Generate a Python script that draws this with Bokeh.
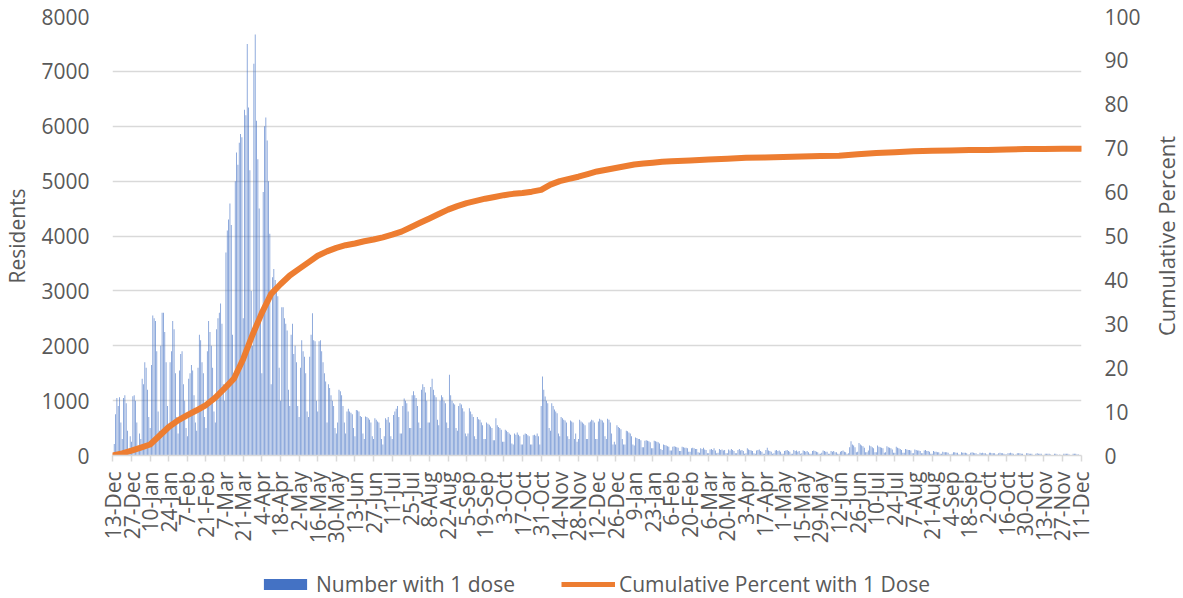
import math
from bokeh.plotting import figure
from bokeh.layouts import column, row
from bokeh.models import (Range1d, LinearAxis, FixedTicker, Legend, LegendItem)
from bokeh.core.properties import value
from bokeh.embed import file_html
from bokeh.resources import INLINE

# ---------------- data ----------------
# daily residents receiving a first dose, 13-Dec-2020 .. 11-Dec-2022 (rows = weeks Sun..Sat)
daily_doses = [
    0, 210, 750, 1050, 900, 1060, 600,
    300, 1050, 1100, 950, 450, 120, 350,
    250, 1080, 1100, 1000, 600, 150, 400,
    300, 1400, 1300, 1700, 1600, 1200, 700,
    500, 1650, 2550, 2500, 2450, 1900, 800,
    450, 2000, 2600, 2600, 2250, 1700, 900,
    550, 1700, 1900, 2450, 2300, 1500, 700,
    400, 1550, 1850, 1900, 1300, 1000, 500,
    350, 1400, 1500, 1650, 1550, 1100, 600,
    450, 1600, 2200, 2100, 1700, 1500, 700,
    500, 1900, 2450, 2250, 2000, 1600, 800,
    600, 2300, 2500, 2600, 2770, 2400, 1300,
    1000, 3700, 4100, 4300, 4590, 4200, 2200,
    1500, 5000, 5520, 5300, 5700, 5860, 5800,
    2500, 6300, 6200, 7500, 6340, 5200, 3000,
    2000, 7140, 7670, 6100, 5400, 4500, 2500,
    1500, 4800, 6000, 6160, 5740, 5000, 4040,
    1300, 3250, 3400, 3200, 3000, 2900, 1600,
    1000, 2700, 2700, 2500, 2400, 2280, 1200,
    900, 2200, 2400, 1850, 2000, 1700, 900,
    700, 1600, 2100, 1900, 1800, 1500, 800,
    700, 1800, 2200, 2590, 2100, 2080, 1000,
    800, 2080, 2100, 1900, 1700, 1500, 1350,
    600, 1300, 1230, 1100, 1000, 900, 500,
    400, 600, 1200, 1170, 1100, 900, 600,
    400, 800, 850, 800, 780, 750, 500,
    350, 830, 820, 800, 720, 700, 400,
    300, 710, 700, 680, 650, 600, 350,
    300, 680, 650, 620, 600, 500, 300,
    200, 350, 680, 650, 700, 600, 350,
    300, 740, 800, 850, 900, 700, 400,
    400, 900, 1040, 1000, 950, 800, 500,
    500, 1100, 1170, 1100, 1050, 900, 600,
    500, 1200, 1300, 1250, 1150, 1000, 600,
    600, 1250, 1400, 1200, 1100, 1060, 650,
    550, 1000, 1100, 1060, 1000, 950, 600,
    500, 1470, 1100, 1000, 950, 930, 500,
    450, 900, 950, 930, 860, 800, 400,
    350, 400, 860, 800, 750, 700, 350,
    300, 700, 660, 650, 600, 550, 300,
    300, 600, 580, 560, 530, 500, 280,
    280, 680, 550, 520, 500, 470, 250,
    250, 470, 450, 430, 400, 380, 220,
    200, 400, 380, 420, 380, 350, 200,
    200, 380, 400, 390, 370, 350, 200,
    200, 370, 380, 360, 400, 350, 200,
    900, 1440, 1200, 1075, 1000, 950, 500,
    450, 950, 900, 840, 800, 770, 400,
    350, 700, 680, 650, 640, 600, 350,
    300, 640, 620, 600, 300, 400, 250,
    300, 650, 620, 600, 580, 550, 300,
    300, 600, 620, 650, 640, 600, 300,
    300, 620, 670, 650, 640, 600, 350,
    300, 670, 650, 600, 400, 200, 250,
    200, 550, 520, 500, 480, 300, 200,
    200, 450, 440, 420, 400, 350, 200,
    180, 330, 320, 300, 300, 280, 150,
    150, 270, 280, 270, 260, 240, 130,
    130, 270, 260, 250, 240, 220, 120,
    100, 200, 190, 180, 170, 160, 90,
    90, 160, 170, 160, 150, 140, 80,
    80, 160, 150, 140, 140, 130, 70,
    70, 130, 140, 130, 120, 120, 60,
    50, 130, 120, 140, 110, 100, 40,
    40, 110, 120, 100, 130, 90, 40,
    50, 120, 100, 110, 90, 100, 40,
    40, 110, 90, 120, 100, 80, 40,
    40, 100, 120, 90, 100, 80, 30,
    40, 130, 110, 100, 90, 80, 40,
    30, 90, 100, 110, 80, 70, 30,
    30, 100, 140, 90, 80, 70, 30,
    40, 90, 100, 80, 90, 70, 30,
    30, 80, 90, 100, 80, 70, 30,
    30, 100, 80, 90, 70, 80, 30,
    40, 90, 80, 70, 80, 60, 30,
    30, 80, 90, 80, 70, 60, 30,
    30, 50, 90, 80, 70, 70, 30,
    30, 80, 70, 80, 60, 60, 30,
    30, 70, 80, 90, 70, 60, 30,
    40, 150, 260, 200, 180, 150, 60,
    70, 230, 200, 180, 170, 140, 60,
    60, 90, 180, 170, 150, 130, 60,
    60, 180, 160, 150, 140, 130, 50,
    60, 170, 150, 140, 130, 110, 50,
    50, 160, 140, 130, 120, 100, 50,
    50, 120, 110, 100, 100, 90, 40,
    40, 110, 100, 90, 90, 80, 40,
    40, 90, 100, 80, 80, 70, 30,
    30, 80, 70, 70, 60, 60, 30,
    30, 70, 60, 60, 60, 50, 20,
    20, 30, 60, 60, 50, 50, 20,
    20, 60, 50, 50, 50, 40, 20,
    20, 50, 60, 50, 40, 40, 20,
    20, 50, 40, 50, 40, 40, 20,
    20, 50, 50, 40, 40, 40, 20,
    20, 40, 50, 40, 40, 30, 20,
    20, 40, 40, 50, 40, 30, 10,
    20, 40, 40, 40, 30, 30, 10,
    10, 40, 40, 30, 30, 30, 10,
    10, 30, 40, 30, 30, 30, 10,
    10, 30, 30, 30, 30, 20, 10,
    10, 30, 30, 20, 10, 20, 10,
    10, 30, 30, 30, 30, 20, 10,
    10, 30, 30, 30, 20, 20, 10,
    10,
]

# cumulative percent with 1 dose, read at week numbers since 13-Dec-2020
cum_week = list(range(0, 61)) + list(range(62, 105, 2))
cum_pct = [
    0, 0.5, 1.1, 1.8, 2.5, 4.5, 6.5, 8.0, 9.2, 10.3,
    11.5, 13.2, 15.3, 17.5, 22.0, 27.5, 32.5, 36.8, 39.0, 41.0,
    42.5, 44.0, 45.5, 46.5, 47.3, 47.9, 48.3, 48.8, 49.2, 49.7,
    50.3, 51.0, 52.0, 53.0, 54.0, 55.0, 56.0, 56.8, 57.5, 58.0,
    58.5, 58.9, 59.3, 59.6, 59.8, 60.1, 60.5, 61.7, 62.5, 63.0,
    63.5, 64.1, 64.7, 65.1, 65.5, 65.9, 66.3, 66.5, 66.7, 66.9,
    67.0,
    67.2, 67.4, 67.6, 67.8, 67.9, 68.0, 68.1, 68.2, 68.3, 68.6,
    68.9, 69.1, 69.3, 69.4, 69.5, 69.6, 69.6, 69.7, 69.8, 69.8,
    69.9, 69.9,
]

tick_labels = [
    "13-Dec", "27-Dec", "10-Jan", "24-Jan", "7-Feb", "21-Feb", "7-Mar", "21-Mar",
    "4-Apr", "18-Apr", "2-May", "16-May", "30-May", "13-Jun", "27-Jun", "11-Jul",
    "25-Jul", "8-Aug", "22-Aug", "5-Sep", "19-Sep", "3-Oct", "17-Oct", "31-Oct",
    "14-Nov", "28-Nov", "12-Dec", "26-Dec", "9-Jan", "23-Jan", "6-Feb", "20-Feb",
    "6-Mar", "20-Mar", "3-Apr", "17-Apr", "1-May", "15-May", "29-May", "12-Jun",
    "26-Jun", "10-Jul", "24-Jul", "7-Aug", "21-Aug", "4-Sep", "18-Sep", "2-Oct",
    "16-Oct", "30-Oct", "13-Nov", "27-Nov", "11-Dec",
]

bar_name = "Number with 1 dose"
line_name = "Cumulative Percent with 1 Dose"
left_title = "Residents"
right_title = "Cumulative Percent"

# ---------------- styles ----------------
FONT = "Open Sans"
GREY = "#595959"
GRID = "#D9D9D9"
BLUE = "#4472C4"
ORANGE = "#ED7D31"
FS = "21px"

n_days = len(daily_doses)
day_idx = list(range(n_days))
tick_pos = [i * 14 for i in range(len(tick_labels))]

# ---------------- main chart ----------------
p = figure(width=1148, height=562, output_backend="svg", toolbar_location=None,
           x_range=Range1d(-0.3, n_days - 0.7), y_range=Range1d(0, 8000),
           min_border_left=112, min_border_right=67, min_border_top=16,
           min_border_bottom=107)
p.outline_line_color = None
p.extra_y_ranges = {"pct": Range1d(0, 100)}

bars = p.vbar(x=day_idx, top=daily_doses, width=0.6, bottom=0,
              fill_color=BLUE, fill_alpha=0.75, line_color=None)

cum_x = [w * 7 for w in cum_week]
line = p.line(x=cum_x, y=cum_pct, y_range_name="pct", line_color=ORANGE,
              line_width=6, line_join="round", line_cap="round")

xa = p.xaxis[0]
xa.ticker = FixedTicker(ticks=tick_pos)
xa.major_label_overrides = {t: l for t, l in zip(tick_pos, tick_labels)}
xa.major_label_orientation = math.pi / 2
xa.major_label_text_font = FONT
xa.major_label_text_font_size = FS
xa.major_label_text_color = GREY
xa.major_tick_in = 0
xa.major_tick_out = 6
xa.major_tick_line_color = GRID
xa.major_tick_line_width = 1.5
xa.minor_tick_line_color = None
xa.axis_line_color = GRID
xa.axis_line_width = 1.5
xa.major_label_standoff = 10

ya = p.yaxis[0]
ya.ticker = FixedTicker(ticks=list(range(0, 8001, 1000)))
ya.axis_label = left_title
ya.axis_label_text_font = FONT
ya.axis_label_text_font_size = FS
ya.axis_label_text_font_style = "normal"
ya.axis_label_text_color = GREY
ya.axis_label_standoff = 7
ya.major_label_text_font = FONT
ya.major_label_text_font_size = FS
ya.major_label_text_color = GREY
ya.major_label_standoff = 23
ya.major_tick_in = 0
ya.major_tick_out = 0
ya.minor_tick_in = 0
ya.minor_tick_out = 0
ya.major_tick_line_color = None
ya.minor_tick_line_color = None
ya.axis_line_color = None

ra = LinearAxis(y_range_name="pct", ticker=FixedTicker(ticks=list(range(0, 101, 10))))
ra.major_label_text_font = FONT
ra.major_label_text_font_size = FS
ra.major_label_text_color = GREY
ra.major_label_standoff = 23
ra.major_tick_in = 0
ra.major_tick_out = 0
ra.minor_tick_in = 0
ra.minor_tick_out = 0
ra.major_tick_line_color = None
ra.minor_tick_line_color = None
ra.axis_line_color = None
p.add_layout(ra, "right")

p.xgrid.grid_line_color = None
p.ygrid.grid_line_color = GRID
p.ygrid.grid_line_width = 1.5

# ---------------- right-hand axis title strip (reads bottom-to-top) ----------------
side = figure(width=35, height=562, output_backend="svg", toolbar_location=None,
              x_range=Range1d(0, 1), y_range=p.y_range,
              min_border_left=0, min_border_right=0, min_border_top=16,
              min_border_bottom=107)
side.axis.visible = False
side.grid.visible = False
side.outline_line_color = None
y_mid = (p.y_range.start + p.y_range.end) / 2
side.text(x=[0.5], y=[y_mid], text=[right_title], angle=math.pi / 2,
          text_align="center", text_baseline="middle",
          text_font=value(FONT), text_font_size="22px", text_color=GREY)

# ---------------- legend strip ----------------
lg = figure(width=1183, height=36, output_backend="svg", toolbar_location=None,
            x_range=Range1d(0, 1), y_range=Range1d(0, 1),
            min_border_left=112, min_border_right=102, min_border_top=0,
            min_border_bottom=0)
lg.axis.visible = False
lg.grid.visible = False
lg.outline_line_color = None
lb = lg.vbar(x=[0.5], top=[0], bottom=[0], width=0.001, fill_color=BLUE, line_color=None)
ll = lg.line(x=[0.5], y=[0.5], line_color=ORANGE, line_width=5)

legend = Legend(items=[LegendItem(label=bar_name, renderers=[lb]),
                       LegendItem(label=line_name, renderers=[ll])],
                orientation="horizontal", location=(146, 0))
legend.label_text_font = FONT
legend.label_text_font_size = FS
legend.label_text_color = GREY
legend.glyph_width = 54
legend.glyph_height = 14
legend.spacing = 46
legend.label_standoff = 4
legend.border_line_color = None
legend.background_fill_alpha = 0
legend.padding = 0
legend.margin = 0
lg.add_layout(legend)

layout = column(row(p, side, spacing=0), lg, spacing=0)
open("out.html", "w").write(file_html(layout, INLINE))
